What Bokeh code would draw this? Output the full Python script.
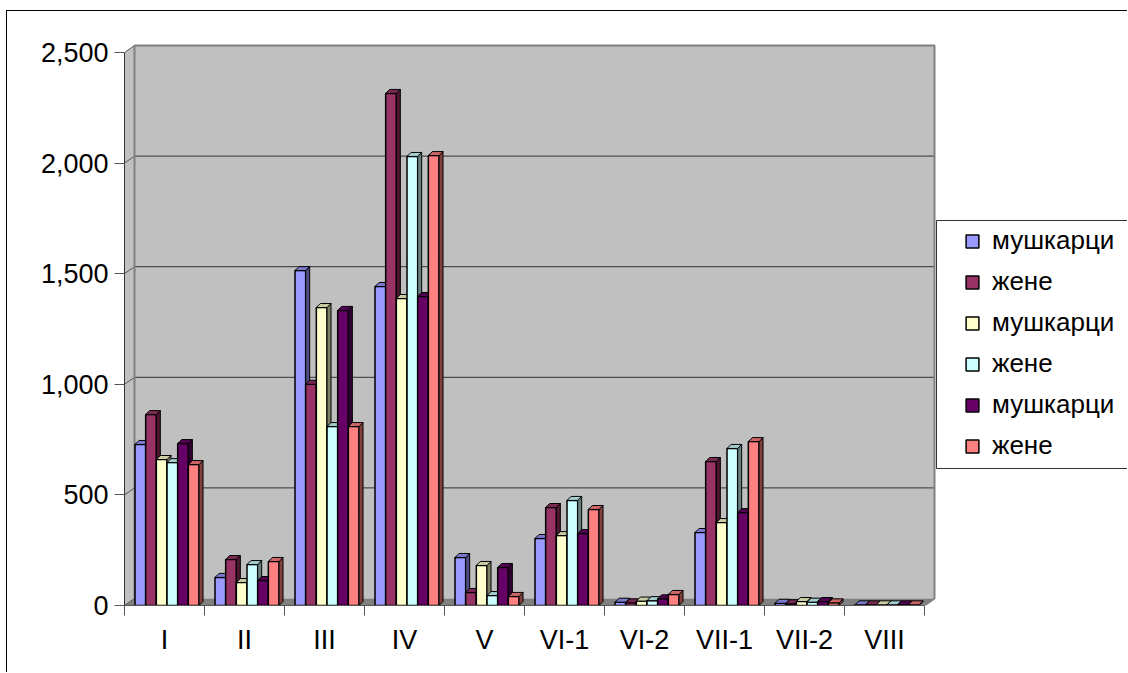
from bokeh.plotting import figure
from bokeh.embed import file_html
from bokeh.resources import INLINE
from bokeh.models import (Range1d, FixedTicker, NumeralTickFormatter, Legend, LegendItem,
                          ColumnDataSource)
from bokeh.core.properties import value

categories = ["I", "II", "III", "IV", "V", "VI-1", "VI-2", "VII-1", "VII-2", "VIII"]
labels = ["мушкарци", "жене", "мушкарци", "жене", "мушкарци", "жене"]
colors = ["#9999FF", "#993366", "#FFFFCC", "#CCFFFF", "#660066", "#FF8080"]
tops = ["#7A7ACC", "#7A2952", "#CCCCA3", "#A3CCCC", "#520052", "#CC6666"]
sides = ["#4D4D80", "#4D1A33", "#808066", "#668080", "#330033", "#804040"]

s1 = [728, 127, 1514, 1442, 217, 303, 15, 330, 10, 3]
s2 = [863, 208, 1000, 2315, 59, 443, 12, 651, 8, 3]
s3 = [660, 104, 1347, 1388, 181, 316, 20, 375, 18, 3]
s4 = [646, 185, 809, 2030, 45, 475, 22, 710, 15, 3]
s5 = [732, 113, 1334, 1397, 172, 325, 30, 420, 18, 3]
s6 = [637, 199, 809, 2034, 41, 434, 50, 741, 12, 3]
series = [s1, s2, s3, s4, s5, s6]

FONT = "Liberation Sans"
PX_X = 80.0          # pixels per category
PX_Y = 0.2212        # pixels per value unit
LEFT, BOTTOM = 117, 68
W, H = 1121, 662
WALL_DX, WALL_DY = 10 / PX_X, 7 / PX_Y
BAR_DX, BAR_DY = 4 / PX_X, 4 / PX_Y
BAR_W = 10.67 / PX_X
BAR_START = 10.5 / PX_X
YMAX = 2500
N = len(categories)

p = figure(width=W, height=H, output_backend="svg", toolbar_location=None,
           x_range=Range1d(0, (W - LEFT) / PX_X), y_range=Range1d(0, (H - BOTTOM) / PX_Y),
           min_border_left=LEFT, min_border_bottom=BOTTOM, min_border_top=0, min_border_right=0,
           outline_line_color=None, background_fill_color="white", border_fill_color="white")
p.margin = (10, 0, 0, 6)
p.styles = {"border-left": "1px solid black", "border-top": "1px solid black"}
p.grid.visible = False

# axes
xa = p.xaxis[0]
xa.ticker = FixedTicker(ticks=[i + 0.5 for i in range(N)], minor_ticks=list(range(N + 1)))
xa.major_label_overrides = {i + 0.5: c for i, c in enumerate(categories)}
xa.bounds = (0, N)
xa.major_tick_line_color = None
xa.major_tick_out = 0
xa.major_tick_in = 0
xa.minor_tick_out = 10
xa.minor_tick_in = 0
xa.minor_tick_line_color = "#555555"
xa.axis_line_color = "#555555"
xa.major_label_standoff = 9
xa.major_label_text_font = FONT
xa.major_label_text_font_size = "27px"
xa.major_label_text_color = "black"

ya = p.yaxis[0]
ya.ticker = FixedTicker(ticks=[0, 500, 1000, 1500, 2000, 2500], minor_ticks=[])
ya.formatter = NumeralTickFormatter(format="0,0")
ya.bounds = (0, YMAX)
ya.major_tick_out = 10
ya.major_tick_in = 0
ya.major_tick_line_color = "#555555"
ya.axis_line_color = "#333333"
ya.major_label_standoff = 6
ya.major_label_text_font = FONT
ya.major_label_text_font_size = "27px"
ya.major_label_text_color = "black"

# walls and floor
p.patch([0, 0, WALL_DX, WALL_DX], [0, YMAX, YMAX + WALL_DY, WALL_DY], fill_color="#C0C0C0", line_color=None)
p.quad(left=WALL_DX, right=N + WALL_DX, bottom=WALL_DY, top=YMAX + WALL_DY, fill_color="#C0C0C0", line_color=None)
p.patch([0, N, N + WALL_DX, WALL_DX], [0, 0, WALL_DY, WALL_DY], fill_color="#808080", line_color=None)
ticks = [500, 1000, 1500, 2000]
p.segment(x0=[WALL_DX] * 4, x1=[N + WALL_DX] * 4, y0=[t + WALL_DY for t in ticks], y1=[t + WALL_DY for t in ticks],
          line_color="#333333", line_width=1)
allt = [0] + ticks + [YMAX]
p.segment(x0=[0] * 6, x1=[WALL_DX] * 6, y0=allt, y1=[t + WALL_DY for t in allt], line_color="#555555", line_width=1)
p.line([WALL_DX, WALL_DX, N + WALL_DX, N + WALL_DX, N],
       [WALL_DY, YMAX + WALL_DY, YMAX + WALL_DY, WALL_DY, 0], line_color="#808080", line_width=2)

# 3D bars
front_renderers = []
for j, vals in enumerate(series):
    x0 = [i + BAR_START + j * BAR_W for i in range(N)]
    x1 = [x + BAR_W for x in x0]
    top_src = ColumnDataSource(dict(
        xs=[[a, b, b + BAR_DX, a + BAR_DX] for a, b in zip(x0, x1)],
        ys=[[v, v, v + BAR_DY, v + BAR_DY] for v in vals]))
    side_src = ColumnDataSource(dict(
        xs=[[b, b + BAR_DX, b + BAR_DX, b] for b in x1],
        ys=[[0, BAR_DY, v + BAR_DY, v] for v in vals]))
    r = p.quad(left=x0, right=x1, bottom=[0] * N, top=vals, fill_color=colors[j], line_color="black", line_width=1.5)
    front_renderers.append(r)
    p.patches("xs", "ys", source=side_src, fill_color=sides[j], line_color="black", line_width=1)
    p.patches("xs", "ys", source=top_src, fill_color=tops[j], line_color="black", line_width=1)

# legend box + legend
p.quad(left=[(936 - 124) / PX_X], right=[20], top=[(605 - 220) / PX_Y], bottom=[(605 - 468) / PX_Y],
       fill_color="white", line_color="#333333", line_width=1)
legend = Legend(items=[LegendItem(label=value(l), renderers=[r]) for l, r in zip(labels, front_renderers)],
                location=(840, 144), orientation="vertical", margin=0, padding=9,
                spacing=10, glyph_width=16, glyph_height=16, label_height=24, label_standoff=12,
                label_text_font=FONT, label_text_font_size="26px", label_text_color="black",
                background_fill_alpha=0, border_line_color=None)
p.add_layout(legend)

open("out.html", "w").write(file_html(p, INLINE))
